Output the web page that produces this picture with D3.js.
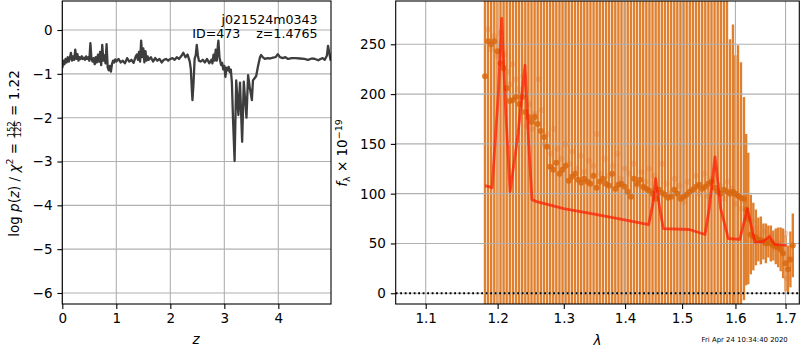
<!DOCTYPE html>
<html>
<head>
<meta charset="utf-8">
<script src="https://cdn.jsdelivr.net/npm/d3@7"></script>
<style>
  body { margin: 0; background: #fff; }
  svg { font-family: "DejaVu Sans", sans-serif; }
  text { white-space: pre; }
</style>
</head>
<body>
<svg width="800" height="350"></svg>
<script>
// ---- left panel: log p(z) ----
const zGrid = [
  0.00,0.02,0.04,0.06,0.08,0.10,0.12,0.14,0.16,0.18,
  0.20,0.22,0.24,0.26,0.28,0.30,0.32,0.34,0.36,0.38,
  0.40,0.42,0.44,0.46,0.48,0.50,0.52,0.54,0.56,0.58,
  0.60,0.62,0.64,0.66,0.68,0.70,0.72,0.74,0.76,0.78,
  0.80,0.82,0.84,0.86,0.88,0.90,0.92,0.94,0.96,0.98,
  1.00,1.04,1.08,1.12,1.16,1.20,1.24,1.28,1.32,1.36,
  1.38,1.40,1.42,1.44,1.46,1.48,1.50,1.52,1.54,1.56,
  1.58,1.60,1.64,1.68,1.72,1.76,1.80,1.84,1.88,1.92,
  1.96,2.00,2.04,2.08,2.12,2.16,2.20,2.24,2.28,2.32,
  2.36,2.38,2.40,2.41,2.43,2.45,2.47,2.49,2.51,2.53,
  2.56,2.60,2.64,2.68,2.72,2.76,2.78,2.80,2.82,2.84,
  2.86,2.88,2.89,2.91,2.94,2.96,2.98,3.00,3.02,3.04,
  3.06,3.08,3.10,3.12,3.14,3.16,3.19,3.22,3.26,3.29,
  3.33,3.36,3.41,3.44,3.47,3.51,3.53,3.56,3.59,3.62,
  3.66,3.68,3.71,3.75,3.80,3.85,3.90,3.95,3.99,4.03,
  4.08,4.13,4.18,4.25,4.32,4.40,4.48,4.55,4.62,4.68,
  4.74,4.78,4.82,4.86,4.90,4.92,4.94,4.97
];
const logPz = [
  -0.87,-0.70,-0.78,-0.66,-0.74,-0.62,-0.72,-0.64,-0.52,-0.70,
  -0.60,-0.68,-0.45,-0.66,-0.55,-0.70,-0.62,-0.66,-0.60,-0.66,
  -0.63,-0.68,-0.60,-0.66,-0.62,-0.70,-0.30,-0.66,-0.72,-0.64,
  -0.78,-0.62,-0.74,-0.56,-0.72,-0.50,-0.80,-0.34,-0.70,-0.58,
  -0.76,-0.32,-0.85,-0.92,-0.82,-0.95,-0.78,-0.70,-0.74,-0.67,
  -0.72,-0.66,-0.74,-0.70,-0.76,-0.64,-0.72,-0.68,-0.75,-0.60,
  -0.56,-0.68,-0.50,-0.72,-0.24,-0.62,-0.42,-0.74,-0.48,-0.70,
  -0.60,-0.68,-0.62,-0.72,-0.64,-0.70,-0.66,-0.74,-0.68,-0.66,
  -0.70,-0.66,-0.64,-0.68,-0.62,-0.66,-0.60,-0.52,-0.62,-0.56,
  -0.72,-0.90,-1.40,-1.60,-1.20,-0.66,-0.58,-0.34,-0.58,-0.70,
  -0.72,-0.68,-0.74,-0.66,-0.76,-0.68,-0.76,-0.56,-0.70,-0.45,
  -0.70,-0.36,-0.24,-0.62,-0.80,-0.75,-0.90,-0.82,-1.07,-0.86,
  -0.92,-0.84,-0.96,-0.90,-1.20,-2.00,-2.99,-1.15,-1.94,-1.20,
  -2.55,-1.18,-2.00,-1.03,-1.30,-1.60,-1.15,-1.10,-1.05,-0.85,
  -0.62,-0.57,-0.62,-0.66,-0.64,-0.65,-0.63,-0.62,-0.55,-0.62,
  -0.64,-0.62,-0.66,-0.64,-0.64,-0.65,-0.66,-0.68,-0.65,-0.66,
  -0.69,-0.66,-0.64,-0.68,-0.58,-0.36,-0.50,-0.70
];
const zTicks = [0, 1, 2, 3, 4];
const pTicks = [-6, -5, -4, -3, -2, -1, 0];

// ---- right panel: spectrum ----
const specWave = [
  1.1818,1.1862,1.1907,1.1952,1.1997,1.2042,1.2087,1.2132,1.2178,1.2224,
  1.2270,1.2316,1.2362,1.2409,1.2455,1.2502,1.2549,1.2596,1.2644,1.2691,
  1.2739,1.2787,1.2835,1.2883,1.2932,1.2980,1.3029,1.3078,1.3127,1.3177,
  1.3226,1.3276,1.3326,1.3376,1.3426,1.3477,1.3528,1.3578,1.3629,1.3681,
  1.3732,1.3784,1.3836,1.3888,1.3940,1.3993,1.4045,1.4098,1.4151,1.4204,
  1.4258,1.4311,1.4365,1.4419,1.4473,1.4528,1.4582,1.4637,1.4692,1.4747,
  1.4803,1.4859,1.4914,1.4970,1.5027,1.5083,1.5140,1.5197,1.5254,1.5311,
  1.5369,1.5427,1.5485,1.5543,1.5601,1.5660,1.5719,1.5778,1.5837,1.5895,
  1.5952,1.5997,1.6049,1.6107,1.6166,1.6209,1.6250,1.6300,1.6350,1.6400,
  1.6450,1.6500,1.6550,1.6600,1.6650,1.6700,1.6750,1.6800,1.6850,1.6900,
  1.6950,1.7000,1.7050,1.7100,1.7150
];
const specFlux = [
  218,253,250,253,243,231,226,206,193,194,
  197,190,197,182,177,172,177,170,163,157,
  147,127,124,131,120,124,128,113,117,120,
  114,111,115,112,110,118,106,112,115,110,
  108,120,105,109,110,107,102,97,115,110,
  114,107,105,103,100,95,104,101,99,96,
  97,104,100,95,97,99,102,104,107,109,
  105,107,110,112,106,102,100,104,102,100,
  102,100,98,96,95,84,75,59,57,56,
  54,53,52,50,52,50,48,47,46,44,
  40,30,24,34,48
];
const specErr = [
  440,460,430,470,450,480,440,500,460,470,
  480,450,470,500,460,490,470,450,480,460,
  470,490,460,480,450,470,490,460,480,470,
  460,480,450,470,490,460,480,470,450,490,
  470,460,480,450,470,490,460,480,470,460,
  480,450,470,460,490,470,450,480,460,470,
  490,460,480,470,450,470,460,480,470,450,
  460,440,430,450,420,400,390,380,360,155,
  168,139,151,136,102,76,66,40,34,28,
  22,24,18,20,16,18,15,18,20,22,
  25,28,24,28,32
];
// fainter points from the other exposures
const faintWave = [
  1.186,1.190,1.195,1.200,1.205,1.210,1.215,1.218,1.222,1.226,
  1.230,1.234,1.238,1.243,1.247,1.252,1.256,1.261,1.266,1.270,
  1.275,1.280,1.285,1.290,1.296,1.302,1.308,1.314,1.320,1.327,
  1.333,1.340,1.347,1.353,1.360,1.366,1.373,1.380,1.387,1.393,
  1.400,1.407,1.414,1.420,1.428,1.435,1.442,1.450,1.457,1.465,
  1.472,1.480,1.487,1.495,1.503,1.510,1.518,1.525,1.532,1.540,
  1.548,1.555,1.562,1.570,1.578,1.585,1.592,1.600,1.606,1.612,
  1.618,1.625,1.632,1.640,1.646,1.652,1.658,1.664,1.670,1.676,
  1.682,1.688,1.694,1.700,1.703,1.706
];
const faintFlux = [
  265,245,258,238,262,240,222,210,230,215,
  205,200,218,168,190,165,180,215,184,150,
  160,140,165,145,135,150,130,142,125,138,
  122,133,128,160,120,135,118,128,140,115,
  125,120,130,108,122,112,125,118,105,130,
  110,100,115,108,92,112,105,118,100,120,
  98,115,125,108,95,112,105,90,98,85,
  92,80,72,65,60,55,62,50,58,45,
  52,48,42,60,15,35
];
// template fit
const modelWave = [
  1.1818,1.1920,1.2010,1.2059,1.2120,1.2182,1.2300,1.2404,1.2460,1.2509,
  1.2580,1.3000,1.3530,1.3970,1.4406,1.4480,1.4527,1.4600,1.4663,1.5130,
  1.5422,1.5500,1.5610,1.5717,1.5863,1.6085,1.6232,1.6383,1.6548,1.6670,
  1.6780,1.7020
];
const modelFlux = [
  108,106,200,276,180,102,160,229,150,94,
  92,85,79,74,69,90,115,85,65,64,
  59,85,137,85,55,54,85,51,52,57,
  49,48
];
const lamTicks = [1.1, 1.2, 1.3, 1.4, 1.5, 1.6, 1.7];
const fTicks = [0, 50, 100, 150, 200, 250];

let svg = d3.select("svg");
let fontSize = 13.5;
let tickLen = 4.9;
let gridColor = "#b0b0b0";

svg.append("rect").attr("width", 800).attr("height", 350).attr("fill", "#fff");

// ============ left panel ============
let L = { x0: 62.3, x1: 331, y0: 1, y1: 304 };
let zScale = d3.scaleLinear().domain([0, 4.975]).range([L.x0, L.x1]);
let pScale = d3.scaleLinear().domain([-6.251, 0.662]).range([L.y1, L.y0]);

svg.append("clipPath").attr("id", "clipL")
  .append("rect").attr("x", L.x0).attr("y", L.y0)
  .attr("width", L.x1 - L.x0).attr("height", L.y1 - L.y0);

let gL = svg.append("g");

// grid
gL.selectAll("line.gx").data(zTicks).enter().append("line")
  .attr("x1", d => zScale(d)).attr("x2", d => zScale(d))
  .attr("y1", L.y0).attr("y2", L.y1)
  .attr("stroke", gridColor).attr("stroke-width", 1.1);
gL.selectAll("line.gy").data(pTicks).enter().append("line")
  .attr("y1", d => pScale(d)).attr("y2", d => pScale(d))
  .attr("x1", L.x0).attr("x2", L.x1)
  .attr("stroke", gridColor).attr("stroke-width", 1.1);

let pzLine = d3.line()
  .x((d, i) => zScale(zGrid[i]))
  .y(d => pScale(d));

gL.append("path")
  .datum(logPz)
  .attr("clip-path", "url(#clipL)")
  .attr("d", pzLine)
  .attr("fill", "none")
  .attr("stroke", "#3d3d3d")
  .attr("stroke-width", 2.3)
  .attr("stroke-linejoin", "round");

// axes
let axL = svg.append("g").attr("transform", `translate(${L.x0},0)`)
  .call(d3.axisLeft(pScale).tickValues(pTicks).tickSize(tickLen).tickPadding(4.9).tickFormat(d3.format("d")));
let axLb = svg.append("g").attr("transform", `translate(0,${L.y1})`)
  .call(d3.axisBottom(zScale).tickValues(zTicks).tickSize(tickLen).tickPadding(4.9).tickFormat(d3.format("d")));

svg.append("rect")
  .attr("x", L.x0).attr("y", L.y0)
  .attr("width", L.x1 - L.x0).attr("height", L.y1 - L.y0)
  .attr("fill", "none").attr("stroke", "#000").attr("stroke-width", 1.1);

// label inside the panel
gL.append("text").attr("x", 317.5).attr("y", 23.5)
  .attr("text-anchor", "end").attr("font-size", 12.6).text("j021524m0343");
gL.append("text").attr("x", 317.5).attr("y", 38)
  .attr("text-anchor", "end").attr("font-size", 12.6).text("ID=473    z=1.4765");

svg.append("text").attr("x", 196).attr("y", 343.5)
  .attr("text-anchor", "middle").attr("font-size", fontSize)
  .style("font-style", "italic").text("z");

// ============ right panel ============
let R = { x0: 395.7, x1: 799.3, y0: 1, y1: 304 };
let lamScale = d3.scaleLog().domain([1.0608, 1.7285]).range([R.x0, R.x1]);
let fScale = d3.scaleLinear().domain([-10.8, 293.5]).range([R.y1, R.y0]);

svg.append("clipPath").attr("id", "clipR")
  .append("rect").attr("x", R.x0).attr("y", R.y0)
  .attr("width", R.x1 - R.x0).attr("height", R.y1 - R.y0);

let gR = svg.append("g").attr("clip-path", "url(#clipR)");

// error bars
gR.selectAll("line.err").data(specWave).enter().append("line")
  .attr("x1", d => lamScale(d)).attr("x2", d => lamScale(d))
  .attr("y1", (d, i) => fScale(specFlux[i] - specErr[i]))
  .attr("y2", (d, i) => fScale(specFlux[i] + specErr[i]))
  .attr("stroke", "#e0802f")
  .attr("stroke-width", 2.4);

// grid on top of the bars
gR.selectAll("line.gx").data(lamTicks).enter().append("line")
  .attr("x1", d => lamScale(d)).attr("x2", d => lamScale(d))
  .attr("y1", R.y0).attr("y2", R.y1)
  .attr("stroke", gridColor).attr("stroke-width", 1.1);
gR.selectAll("line.gy").data(fTicks).enter().append("line")
  .attr("y1", d => fScale(d)).attr("y2", d => fScale(d))
  .attr("x1", R.x0).attr("x2", R.x1)
  .attr("stroke", gridColor).attr("stroke-width", 1.1);

// zero line
gR.append("line")
  .attr("x1", R.x0).attr("x2", R.x1)
  .attr("y1", fScale(0)).attr("y2", fScale(0))
  .attr("stroke", "#000").attr("stroke-width", 1.8)
  .attr("stroke-dasharray", "1.8,2.7");

gR.selectAll("circle.faint").data(faintWave).enter().append("circle")
  .attr("cx", d => lamScale(d))
  .attr("cy", (d, i) => fScale(faintFlux[i]))
  .attr("r", 3)
  .attr("fill", "#e07428")
  .attr("fill-opacity", 0.3);

gR.selectAll("circle.pt").data(specWave).enter().append("circle")
  .attr("cx", d => lamScale(d))
  .attr("cy", (d, i) => fScale(specFlux[i]))
  .attr("r", 3)
  .attr("fill", "#d8650c")
  .attr("fill-opacity", 0.8);

let modelLine = d3.line()
  .x((d, i) => lamScale(modelWave[i]))
  .y(d => fScale(d));

gR.append("path")
  .datum(modelFlux)
  .attr("d", modelLine)
  .attr("fill", "none")
  .attr("stroke", "#ff1800")
  .attr("stroke-opacity", 0.7)
  .attr("stroke-width", 2.8)
  .attr("stroke-linejoin", "round");

let axR = svg.append("g").attr("transform", `translate(${R.x0},0)`)
  .call(d3.axisLeft(fScale).tickValues(fTicks).tickSize(tickLen).tickPadding(4.9).tickFormat(d3.format("d")));
let axRb = svg.append("g").attr("transform", `translate(0,${R.y1})`)
  .call(d3.axisBottom(lamScale).tickValues(lamTicks).tickSize(tickLen).tickPadding(4.9).tickFormat(d3.format(".1f")));

svg.append("rect")
  .attr("x", R.x0).attr("y", R.y0)
  .attr("width", R.x1 - R.x0).attr("height", R.y1 - R.y0)
  .attr("fill", "none").attr("stroke", "#000").attr("stroke-width", 1.1);

svg.append("text").attr("x", 597.5).attr("y", 344.5)
  .attr("text-anchor", "middle").attr("font-size", fontSize)
  .style("font-style", "italic").text("λ");

svg.append("text").attr("x", 787.7).attr("y", 341.5)
  .attr("text-anchor", "end").attr("font-size", 6.9).text("Fri Apr 24 10:34:40 2020");

// style axes like matplotlib
[axL, axLb, axR, axRb].forEach(ax => {
  ax.select(".domain").remove();
  ax.selectAll(".tick line").attr("stroke", "#000").attr("stroke-width", 1.1);
  ax.selectAll(".tick text").attr("font-size", fontSize).attr("fill", "#000")
    .attr("font-family", "DejaVu Sans");
});

// ---- rotated math labels ----
function mathLabel(cx, cy, parts) {
  let g = svg.append("g");
  let inner = g.append("g");
  let x = 0;
  parts.forEach(p => {
    if (p.frac) {
      let num = inner.append("text").attr("y", -5.3).attr("font-size", p.size).text(p.frac[0]);
      let den = inner.append("text").attr("y", 2.6).attr("font-size", p.size).text(p.frac[1]);
      let w = Math.max(num.node().getComputedTextLength(), den.node().getComputedTextLength()) + 2;
      num.attr("x", x + w / 2).attr("text-anchor", "middle");
      den.attr("x", x + w / 2).attr("text-anchor", "middle");
      inner.append("line").attr("x1", x + 0.5).attr("x2", x + w - 0.5)
        .attr("y1", -4.1).attr("y2", -4.1).attr("stroke", "#000").attr("stroke-width", 0.7);
      x += w;
      return;
    }
    let t = inner.append("text").attr("x", x).attr("y", p.dy || 0)
      .attr("font-size", p.size || fontSize)
      .style("font-style", p.italic ? "italic" : "normal")
      .text(p.t);
    x += t.node().getComputedTextLength();
  });
  g.attr("transform", `translate(${cx},${cy + x / 2}) rotate(-90)`);
}

mathLabel(18.8, 153.5, [
  { t: "log " },
  { t: "p", italic: true },
  { t: "(" },
  { t: "z", italic: true },
  { t: ") / " },
  { t: "χ", italic: true },
  { t: "2", size: 9.5, dy: -5.5 },
  { t: " = " },
  { frac: ["152", "125"], size: 8.6 },
  { t: " = 1.22" }
]);

mathLabel(347, 153, [
  { t: "f", italic: true },
  { t: "λ", size: 9.5, dy: 3 },
  { t: " × 10" },
  { t: "−19", size: 9.5, dy: -5.5 }
]);
</script>
</body>
</html>
